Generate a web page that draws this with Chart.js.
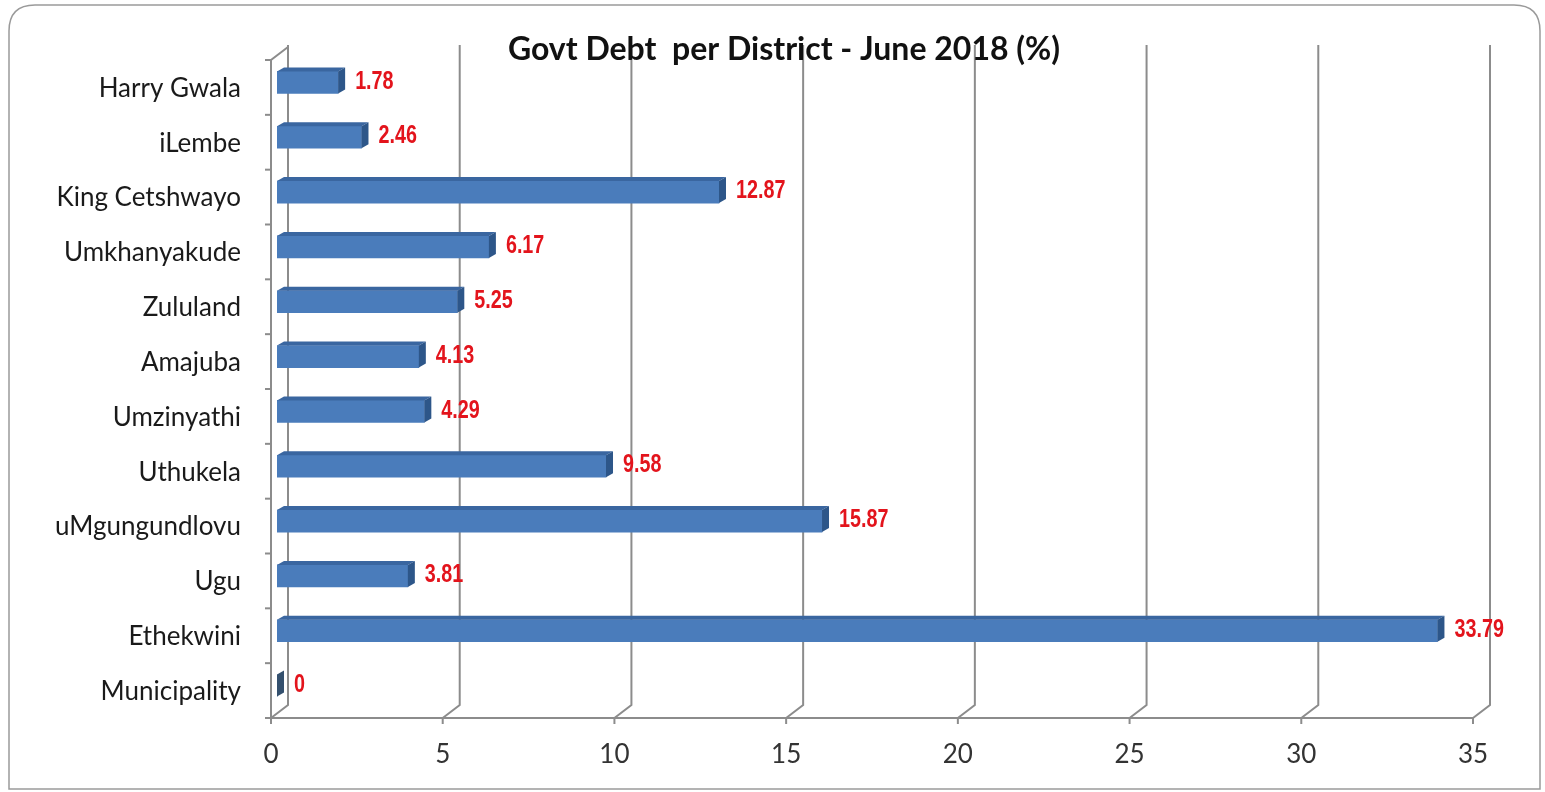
<!DOCTYPE html>
<html>
<head>
<meta charset="utf-8">
<script src="https://cdn.jsdelivr.net/npm/chart.js@4/dist/chart.umd.min.js"></script>
<style>
  html, body { margin: 0; padding: 0; background: #ffffff; }
  #wrap { width: 1545px; height: 792px; }
</style>
</head>
<body>
<div id="wrap"><canvas id="c" width="1545" height="792"></canvas></div>
<script>
const categories = ["Harry Gwala", "iLembe", "King Cetshwayo", "Umkhanyakude", "Zululand", "Amajuba", "Umzinyathi", "Uthukela", "uMgungundlovu", "Ugu", "Ethekwini", "Municipality"];
const debtValues = [1.78, 2.46, 12.87, 6.17, 5.25, 4.13, 4.29, 9.58, 15.87, 3.81, 33.79, 0];
const valueLabels = ["1.78", "2.46", "12.87", "6.17", "5.25", "4.13", "4.29", "9.58", "15.87", "3.81", "33.79", "0"];
const xTicks = [0, 5, 10, 15, 20, 25, 30, 35];
const chartTitle = "Govt Debt  per District - June 2018 (%)";

// 3D offsets (relative to the bar plane)
const FRONT = { dx: -6, dy: 5 };
const BACK = { dx: 11, dy: -8 };
const BAR_DEPTH = { dx: 7, dy: -4 };

const framePlugin = {
  id: 'frame3d',
  beforeDraw(chart) {
    const ctx = chart.ctx;
    ctx.save();
    ctx.fillStyle = '#ffffff';
    ctx.fillRect(0, 0, chart.width, chart.height);
    const x0 = 9, y0 = 5, x1 = 1540, y1 = 789, r = 26;
    ctx.beginPath();
    ctx.moveTo(x0 + r, y0);
    ctx.lineTo(x1 - r, y0);
    ctx.quadraticCurveTo(x1, y0, x1, y0 + r);
    ctx.lineTo(x1, y1);
    ctx.lineTo(x0, y1);
    ctx.lineTo(x0, y0 + r);
    ctx.quadraticCurveTo(x0, y0, x0 + r, y0);
    ctx.strokeStyle = '#9a9a9a';
    ctx.lineWidth = 1.5;
    ctx.stroke();
    ctx.restore();
  },
  beforeDatasetsDraw(chart) {
    const ctx = chart.ctx;
    const xs = chart.scales.x;
    const a = chart.chartArea;
    ctx.save();
    ctx.strokeStyle = '#8c8c8c';
    ctx.lineWidth = 2;
    xTicks.forEach(v => {
      const px = xs.getPixelForValue(v);
      ctx.beginPath();
      ctx.moveTo(px + BACK.dx, a.top + BACK.dy - 2);
      ctx.lineTo(px + BACK.dx, a.bottom + BACK.dy);
      ctx.lineTo(px + FRONT.dx, a.bottom + FRONT.dy);
      ctx.stroke();
      ctx.beginPath();
      ctx.moveTo(px + FRONT.dx, a.bottom + FRONT.dy);
      ctx.lineTo(px + FRONT.dx, a.bottom + FRONT.dy + 6);
      ctx.stroke();
    });
    const x0 = xs.getPixelForValue(0), x35 = xs.getPixelForValue(35);
    ctx.beginPath();
    ctx.moveTo(x0 + FRONT.dx, a.bottom + FRONT.dy);
    ctx.lineTo(x35 + FRONT.dx, a.bottom + FRONT.dy);
    ctx.stroke();
    ctx.beginPath();
    ctx.moveTo(x0 + FRONT.dx, a.bottom + FRONT.dy);
    ctx.lineTo(x0 + FRONT.dx, a.top + FRONT.dy);
    ctx.lineTo(x0 + BACK.dx, a.top + BACK.dy);
    ctx.stroke();
    for (let i = 0; i <= categories.length; i++) {
      const yy = a.top + (a.bottom - a.top) * i / categories.length + FRONT.dy;
      ctx.beginPath();
      ctx.moveTo(x0 + FRONT.dx - 6, yy);
      ctx.lineTo(x0 + FRONT.dx, yy);
      ctx.stroke();
    }
    ctx.restore();
  },
  afterDatasetsDraw(chart) {
    const ctx = chart.ctx;
    const meta = chart.getDatasetMeta(0);
    ctx.save();
    meta.data.forEach((bar, i) => {
      const p = bar.getProps(['x', 'y', 'base', 'height'], true);
      const left = Math.min(p.base, p.x), right = Math.max(p.base, p.x);
      const top = p.y - p.height / 2, bottom = p.y + p.height / 2;
      const d = BAR_DEPTH;
      if (right - left > 0.5) {
        ctx.beginPath();
        ctx.moveTo(left, top);
        ctx.lineTo(left + d.dx, top + d.dy);
        ctx.lineTo(right + d.dx, top + d.dy);
        ctx.lineTo(right, top);
        ctx.closePath();
        ctx.fillStyle = '#3a66a0';
        ctx.fill();
      }
      ctx.beginPath();
      ctx.moveTo(right, top);
      ctx.lineTo(right + d.dx, top + d.dy);
      ctx.lineTo(right + d.dx, bottom + d.dy);
      ctx.lineTo(right, bottom);
      ctx.closePath();
      ctx.fillStyle = (right - left > 0.5) ? '#2d5689' : '#34506e';
      ctx.fill();
      // value label (narrow bold, emulated by horizontal scaling)
      ctx.save();
      const lx = right + d.dx + 10;
      ctx.translate(lx, p.y - 1);
      ctx.scale(0.76, 1);
      ctx.fillStyle = '#e3141c';
      ctx.font = "bold 26px 'Liberation Sans', Arial, sans-serif";
      ctx.textAlign = 'left';
      ctx.textBaseline = 'middle';
      ctx.fillText(valueLabels[i], 0, 0);
      ctx.restore();
    });
    ctx.fillStyle = '#111111';
    ctx.font = "bold 32px Lato, 'Open Sans', sans-serif";
    ctx.textAlign = 'center';
    ctx.textBaseline = 'middle';
    ctx.fillText(chartTitle, 784, 50);
    ctx.restore();
  }
};

const chart = new Chart(document.getElementById('c'), {
  type: 'bar',
  data: {
    labels: categories,
    datasets: [{
      data: debtValues,
      backgroundColor: '#4a7cbb',
      borderWidth: 0,
      barThickness: 22
    }]
  },
  options: {
    indexAxis: 'y',
    responsive: false,
    animation: false,
    devicePixelRatio: 1,
    layout: { padding: { top: 55, right: 66, bottom: 0, left: 0 } },
    plugins: {
      legend: { display: false },
      tooltip: { enabled: false },
      title: { display: false }
    },
    scales: {
      x: {
        type: 'linear',
        min: 0,
        max: 35,
        afterBuildTicks(scale) { scale.ticks = xTicks.map(v => ({ value: v })); },
        afterFit(scale) { scale.height = 79; },
        grid: { display: false, drawTicks: false },
        border: { display: false },
        ticks: {
          padding: 26,
          labelOffset: -6,
          color: '#333333',
          font: { family: "Lato, 'Open Sans', sans-serif", size: 26 }
        }
      },
      y: {
        afterFit(scale) { scale.width = 277; },
        grid: { display: false, drawTicks: false },
        border: { display: false },
        ticks: {
          padding: 36,
          labelOffset: 6,
          color: '#1a1a1a',
          font: { family: "Lato, 'Open Sans', sans-serif", size: 26 }
        }
      }
    }
  },
  plugins: [framePlugin]
});
</script>
</body>
</html>
